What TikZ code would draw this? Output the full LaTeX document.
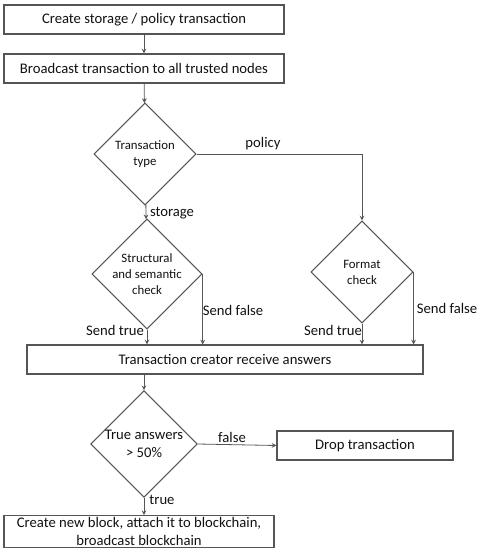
\documentclass[tikz,border=0pt]{standalone}
\usepackage{fontspec}
\setmainfont{Carlito}
\usetikzlibrary{shapes.geometric}
\definecolor{flowline}{HTML}{555555}
\definecolor{flowfg}{HTML}{111111}

\begin{document}
\begin{tikzpicture}[x=0.75pt,y=-0.75pt,>=stealth,font=\fontsize{11}{13}\selectfont]
  \tikzstyle{box}=[draw=flowline, thick, rectangle, text=flowfg, align=center, inner sep=1pt, minimum height=21.75pt]
  \tikzstyle{decision}=[draw=flowline, thick, diamond, aspect=1, text=flowfg, align=center, inner sep=0pt, minimum width=76.5pt, minimum height=76.5pt, font=\fontsize{9.6}{12}\selectfont]
  \tikzstyle{lbl}=[text=flowfg, inner sep=0pt]
  \tikzstyle{arrow}=[->, semithick, draw=flowline]

  \path[use as bounding box] (0,0) rectangle (479,550);

  % boxes
  \node[box, minimum width=210pt] (create) at (144,19.5) {Create storage / policy transaction};
  \node[box, minimum width=210pt] (bcast) at (144,68.5) {Broadcast transaction to all trusted nodes};
  \node[box, minimum width=297pt] (recv) at (225,359.5) {Transaction creator receive answers};
  \node[box, minimum width=132pt] (drop) at (365,445.5) {Drop transaction};
  \node[box, minimum width=202.5pt, minimum height=23.25pt, font=\fontsize{11}{14}\selectfont] (newblk) at (139,531.5) {Create new block, attach it to blockchain,\\broadcast blockchain};

  % decisions
  \node[decision] (ttype) at (145,154) {Transaction\\type};
  \node[decision] (struct) at (147,274) {Structural\\and semantic\\check};
  \node[decision] (fmt) at (362,272) {Format\\check};
  \node[decision, font=\fontsize{11}{14}\selectfont] (answers) at (144,444) {True answers\\> 50\%};

  % connectors
  \draw[arrow] (create) -- (bcast);
  \draw[arrow] (bcast) -- (ttype);
  \draw[arrow] (ttype.east) -| (fmt.north);
  \draw[arrow] (ttype) -- (struct);
  \draw[arrow] (struct.south) -- (struct.south |- recv.north);
  \draw[arrow] (struct.east) -- (struct.east |- recv.north);
  \draw[arrow] (fmt.south) -- (fmt.south |- recv.north);
  \draw[arrow] (fmt.east) -- (fmt.east |- recv.north);
  \draw[arrow] (answers.north |- recv.south) -- (answers.north);
  \draw[arrow] (answers.east) -- (drop.west);
  \draw[arrow] (answers.south) -- (answers.south |- newblk.north);

  % labels
  \node[lbl] (lpolicy) at (263,144) {policy};
  \node[lbl] (lstorage) at (172,213) {storage};
  \node[lbl] (lstrue) at (115,330) {Send true};
  \node[lbl] (lsfalse) at (233,310) {Send false};
  \node[lbl] (lftrue) at (333,330) {Send true};
  \node[lbl] (lffalse) at (447,308) {Send false};
  \node[lbl] (lfalse) at (232,437) {false};
  \node[lbl] (ltrue) at (162,500) {true};
\end{tikzpicture}
\end{document}
